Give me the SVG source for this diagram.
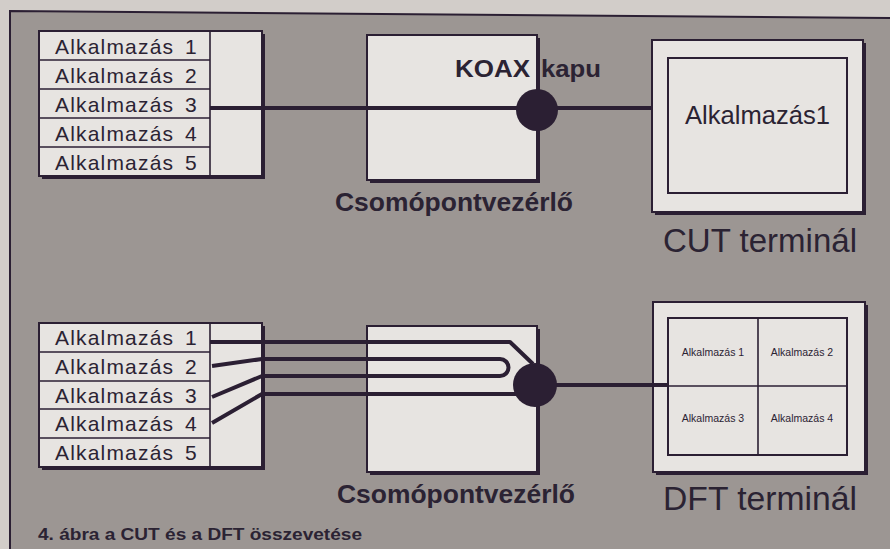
<svg xmlns="http://www.w3.org/2000/svg" width="890" height="549" viewBox="0 0 890 549">
<style>
.bx{fill:#e7e4e1;stroke:#2b1f33;stroke-width:2}
.sh{fill:#2b1f33}
.ln{fill:none;stroke:#2b1f33;stroke-width:1.6}
.cn{fill:none;stroke:#2b1f33;stroke-width:4;stroke-linejoin:round}
.port{fill:#2b1f33}
.t{font-family:"Liberation Sans",Arial,sans-serif;fill:#2b2333}
.app{font-size:21px}
.b{font-weight:bold}
</style>
<rect x="0" y="0" width="890" height="549" fill="#d2cdc9"/>
<polygon points="10,11 890,18 890,549 10,549" fill="#9c9693"/>
<polyline points="10,549 10,11 890,18" fill="none" stroke="#2b1f33" stroke-width="2"/>

<g id="apps-top">
<rect class="sh" x="42" y="34" width="223" height="145"/>
<rect class="bx" x="39" y="31" width="223" height="145"/>
<line class="ln" x1="210" y1="31" x2="210" y2="176"/>
<line class="ln" x1="39" y1="60" x2="210" y2="60"/>
<line class="ln" x1="39" y1="89" x2="210" y2="89"/>
<line class="ln" x1="39" y1="118" x2="210" y2="118"/>
<line class="ln" x1="39" y1="147" x2="210" y2="147"/>
<text class="t app" x="55" y="54"><tspan textLength="118">Alkalmazás</tspan> <tspan x="185">1</tspan></text>
<text class="t app" x="55" y="83"><tspan textLength="118">Alkalmazás</tspan> <tspan x="185">2</tspan></text>
<text class="t app" x="55" y="112"><tspan textLength="118">Alkalmazás</tspan> <tspan x="185">3</tspan></text>
<text class="t app" x="55" y="141"><tspan textLength="118">Alkalmazás</tspan> <tspan x="185">4</tspan></text>
<text class="t app" x="55" y="170"><tspan textLength="118">Alkalmazás</tspan> <tspan x="185">5</tspan></text>
</g>

<g id="node-top">
<rect class="sh" x="370" y="38" width="170" height="145"/>
<rect class="bx" x="367" y="35" width="170" height="145"/>
<text class="t b" x="455" y="77" font-size="24" textLength="75" lengthAdjust="spacingAndGlyphs">KOAX</text>
<text class="t b" x="541" y="77" font-size="24" textLength="60" lengthAdjust="spacingAndGlyphs">kapu</text>
<text class="t b" x="335" y="211" font-size="25" textLength="238" lengthAdjust="spacingAndGlyphs">Csomópontvezérlő</text>
</g>

<g id="cut-terminal">
<rect class="sh" x="655" y="43" width="211" height="172"/>
<rect class="bx" x="652" y="40" width="211" height="172"/>
<rect class="bx" x="668" y="58" width="179" height="135"/>
<text class="t" x="685" y="124" font-size="26" textLength="145" lengthAdjust="spacingAndGlyphs">Alkalmazás1</text>
<text class="t" x="663" y="252" font-size="33" textLength="194" lengthAdjust="spacingAndGlyphs">CUT terminál</text>
</g>

<g id="apps-bottom">
<rect class="sh" x="42" y="326" width="223" height="144"/>
<rect class="bx" x="39" y="323" width="223" height="144"/>
<line class="ln" x1="210" y1="323" x2="210" y2="467"/>
<line class="ln" x1="39" y1="352" x2="210" y2="352"/>
<line class="ln" x1="39" y1="381" x2="210" y2="381"/>
<line class="ln" x1="39" y1="409" x2="210" y2="409"/>
<line class="ln" x1="39" y1="438" x2="210" y2="438"/>
<text class="t app" x="55" y="345"><tspan textLength="118">Alkalmazás</tspan> <tspan x="185">1</tspan></text>
<text class="t app" x="55" y="374"><tspan textLength="118">Alkalmazás</tspan> <tspan x="185">2</tspan></text>
<text class="t app" x="55" y="403"><tspan textLength="118">Alkalmazás</tspan> <tspan x="185">3</tspan></text>
<text class="t app" x="55" y="431"><tspan textLength="118">Alkalmazás</tspan> <tspan x="185">4</tspan></text>
<text class="t app" x="55" y="460"><tspan textLength="118">Alkalmazás</tspan> <tspan x="185">5</tspan></text>
</g>

<g id="node-bottom">
<rect class="sh" x="370" y="329" width="170" height="146"/>
<rect class="bx" x="367" y="326" width="170" height="146"/>
<text class="t b" x="337" y="503" font-size="25" textLength="238" lengthAdjust="spacingAndGlyphs">Csomópontvezérlő</text>
</g>

<g id="dft-terminal">
<rect class="sh" x="656" y="305" width="212" height="170"/>
<rect class="bx" x="653" y="302" width="212" height="170"/>
<rect class="bx" x="668" y="318" width="179" height="137"/>
<line class="ln" x1="758" y1="318" x2="758" y2="455"/>
<line class="ln" x1="668" y1="386" x2="847" y2="386"/>
<text class="t" x="713" y="356" font-size="10.5" text-anchor="middle">Alkalmazás 1</text>
<text class="t" x="802" y="356" font-size="10.5" text-anchor="middle">Alkalmazás 2</text>
<text class="t" x="713" y="422" font-size="10.5" text-anchor="middle">Alkalmazás 3</text>
<text class="t" x="802" y="422" font-size="10.5" text-anchor="middle">Alkalmazás 4</text>
<text class="t" x="663" y="510" font-size="33" textLength="194" lengthAdjust="spacingAndGlyphs">DFT terminál</text>
</g>

<g id="connectors">
<path class="cn" d="M210,108 H652"/>
<path class="cn" d="M210,342 H510 L533,364"/>
<path class="cn" d="M212,366 L262,359 H500 A8.5,8.5 0 0 1 500,376 H262 L212,397"/>
<path class="cn" d="M212,423 L262,394 H535"/>
<path class="cn" d="M535,385 H668"/>
</g>

<g id="port-top"><circle class="port" cx="537" cy="110" r="21"/></g>
<g id="port-bottom"><circle class="port" cx="535" cy="385" r="22"/></g>

<g id="caption">
<text class="t b" x="38" y="540" font-size="16" textLength="324" lengthAdjust="spacingAndGlyphs">4. ábra a CUT és a DFT összevetése</text>
</g>
</svg>
